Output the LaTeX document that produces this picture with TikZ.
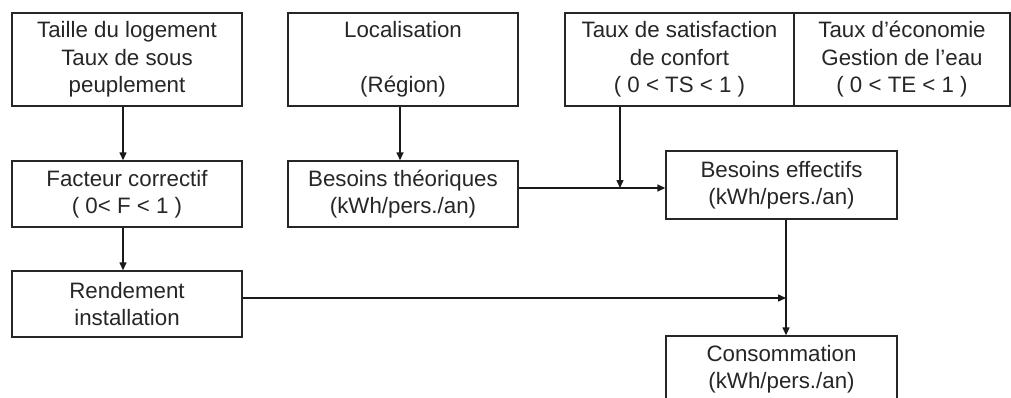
\documentclass[tikz,border=0pt]{standalone}
\usepackage{fontspec}
\setmainfont{Liberation Sans}
\usetikzlibrary{arrows.meta,calc}
\begin{document}
\begin{tikzpicture}[x=1pt,y=-1pt,
  box/.style={draw=black!85,line width=1.4pt,rectangle,inner sep=0pt,
    minimum width=230pt,align=center,font=\fontsize{22.3}{27.5}\selectfont,text=black!85},
  tall/.style={box,minimum height=93pt},
  short/.style={box,minimum height=66pt},
  arr/.style={line width=1.4pt,draw=black!90,-{Triangle[length=8pt,width=7pt]}},
  ln/.style={line width=1.4pt,draw=black!90}]
\useasboundingbox (0,0) rectangle (1011,397);
\clip (0,0) rectangle (1011,397);
\node[tall] (taille) at (127,59.5) {Taille du logement\\Taux de sous\\peuplement};
\node[tall] (loc) at (403,59.5) {Localisation\\~\\(Région)};
\node[tall,minimum width=229pt] (ts) at (679.5,59.5) {Taux de satisfaction\\de confort\\( 0 < TS < 1 )};
\node[tall,minimum width=216pt] (te) at (902,59.5) {Taux d’économie\\Gestion de l’eau\\( 0 < TE < 1 )};
\node[short] (fac) at (127,194) {Facteur correctif\\( 0< F < 1 )};
\node[short] (bt) at (403,194) {Besoins théoriques\\(kWh/pers./an)};
\node[short,minimum width=231pt,minimum height=68pt] (be) at (781.5,185) {Besoins effectifs\\(kWh/pers./an)};
\node[short] (rend) at (127,304) {Rendement\\installation};
\node[short,minimum width=231pt] (cons) at (781.5,369) {Consommation\\(kWh/pers./an)};
\coordinate (j1) at (620,188);
\coordinate (j2) at (786,298);
\draw[arr] ([xshift=-4pt]taille.south) -- ([xshift=-4pt]fac.north);
\draw[arr] ([xshift=-3pt]loc.south) -- ([xshift=-3pt]bt.north);
\draw[arr] ([xshift=-4pt]fac.south) -- ([xshift=-4pt]rend.north);
\draw[arr] (ts.south -| j1) -- (j1);
\draw[arr] (bt.east |- j1) -- (be.west |- j1);
\draw[arr] (rend.east |- j2) -- (j2);
\draw[arr] (be.south -| j2) -- (cons.north -| j2);
\end{tikzpicture}
\end{document}
